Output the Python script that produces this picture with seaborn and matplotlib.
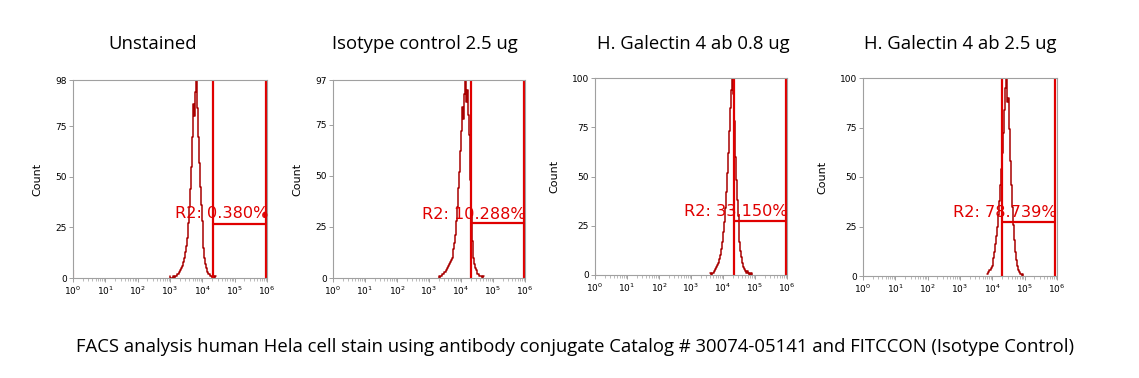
import numpy as np
import pandas as pd
import matplotlib
matplotlib.use('Agg')
import matplotlib.pyplot as plt
import seaborn as sns
from matplotlib.ticker import LogLocator, NullFormatter, FixedLocator, FuncFormatter

sns.set_style('white')
plt.rcParams['font.family'] = ['DejaVu Sans']
plt.rcParams['text.color'] = 'black'
plt.rcParams['xtick.labelcolor'] = 'black'
plt.rcParams['ytick.labelcolor'] = 'black'
plt.rcParams['axes.labelcolor'] = 'black'

# Panel titles and caption
titles = ['Unstained', 'Isotype control 2.5 ug',
          'H. Galectin 4 ab 0.8 ug', 'H. Galectin 4 ab 2.5 ug']
caption = ('FACS analysis human Hela cell stain using antibody conjugate '
           'Catalog # 30074-05141 and FITCCON (Isotype Control)')

# Histogram counts (log10 bins of width 0.03)
bin_step = 0.03
bin_starts = [3.00, 3.30, 3.60, 3.84]
unstained_counts = [1, 0, 0, 0, 1, 0, 1, 1, 2, 2, 3, 4, 5, 6, 8, 10, 13, 16, 20, 27,
                    35, 44, 55, 70, 86, 80, 92, 98, 84, 70, 57, 45, 36, 28, 21, 15,
                    10, 7, 5, 3, 2, 2, 1, 1, 0, 1, 0, 1]
isotype_counts = [1, 0, 1, 1, 2, 2, 3, 3, 4, 5, 6, 7, 8, 9, 10, 12, 14, 17, 21, 28,
                  35, 44, 52, 62, 72, 84, 78, 90, 97, 86, 92, 80, 70, 48, 30, 18,
                  10, 7, 5, 4, 3, 2, 2, 1, 1, 1, 0, 1]
gal_08_counts = [1, 0, 1, 1, 2, 2, 3, 4, 5, 6, 8, 10, 13, 17, 22, 27, 34, 42, 52, 62,
                 73, 85, 94, 100, 92, 78, 60, 48, 38, 30, 24, 17, 12, 9, 6, 4, 3, 2,
                 1, 2, 1, 0, 1, 0, 1]
gal_25_counts = [1, 2, 3, 3, 4, 5, 7, 9, 12, 16, 20, 25, 31, 38, 46, 54, 62, 72, 84,
                 95, 100, 88, 90, 74, 58, 46, 35, 26, 18, 12, 8, 5, 3, 2, 1, 1, 0, 1]
all_counts = [unstained_counts, isotype_counts, gal_08_counts, gal_25_counts]
edge_counts = [4, 0, 1, 0]          # events piled up on the 10^0 channel
y_tops = [98, 97, 100, 100]

# Region R2 markers (log10 positions) and labels
gate_left = [4.32, 4.31, 4.33, 4.29]
gate_right = [5.98, 5.97, 5.98, 5.95]
gate_level = [26.8, 26.7, 27.6, 27.5]
label_level = [31.8, 31.0, 32.2, 32.0]
r2_labels = ['R2: 0.380%', 'R2: 10.288%', 'R2: 33.150%', 'R2: 78.739%']

hist_color = '#a80000'
gate_color = '#e00000'
axis_grey = '#a0a0a0'

W, H = 1139, 378
fig = plt.figure(figsize=(W / 100, H / 100), dpi=100)

# pixel boxes of the four plot areas: left, top, right, bottom
boxes = [(73, 80, 267, 278), (333, 80, 525, 278),
         (595, 78, 787, 275), (863, 78, 1057, 276)]
title_x = [153, 425, 693, 960]

for i in range(4):
    l, t, r, b = boxes[i]
    ax = fig.add_axes([l / W, 1 - b / H, (r - l) / W, (b - t) / H])

    logx = bin_starts[i] + bin_step * np.arange(len(all_counts[i]))
    df = pd.DataFrame({'intensity': 10 ** logx, 'count': all_counts[i]})
    sns.lineplot(data=df, x='intensity', y='count', ax=ax, color=hist_color,
                 lw=1.1, drawstyle='steps-mid')
    if edge_counts[i] > 0:
        ax.vlines(1, 0, edge_counts[i], color=hist_color, lw=1.5)

    ax.set_xscale('log')
    ax.set_xlim(1, 1e6)
    ax.set_ylim(0, y_tops[i])

    # R2 gate
    gl, gr = 10 ** gate_left[i], 10 ** gate_right[i]
    ax.axvline(gl, color=gate_color, lw=1.6)
    ax.axvline(gr, color=gate_color, lw=1.6)
    ax.hlines(gate_level[i], gl, gr, color=gate_color, lw=1.6)
    ax.text(10 ** (gate_right[i] + 0.05), label_level[i], r2_labels[i],
            color=gate_color, fontsize=11.6, ha='right', va='center')
    if i == 0:
        ax.plot([gr], [label_level[i]], 'o', color=gate_color, ms=4)

    # axes styling
    for s in ax.spines.values():
        s.set_color(axis_grey)
        s.set_linewidth(0.8)
    ax.xaxis.set_major_locator(FixedLocator([10 ** k for k in range(7)]))
    ax.xaxis.set_minor_locator(LogLocator(base=10, subs=np.arange(2, 10), numticks=20))
    ax.xaxis.set_minor_formatter(NullFormatter())
    ax.xaxis.set_major_formatter(FuncFormatter(
        lambda v, p: r'$10^{%d}$' % round(np.log10(v))))
    ax.set_yticks([0, 25, 50, 75, y_tops[i]])
    ax.tick_params(axis='both', which='major', direction='out', length=3,
                   width=0.7, color=axis_grey, labelsize=6.5, pad=1.5,
                   bottom=True, left=True)
    ax.tick_params(axis='x', which='minor', direction='out', length=2,
                   width=0.5, color=axis_grey, bottom=True)
    ax.set_xlabel('')
    ax.set_ylabel('Count', fontsize=8, labelpad=9)

    fig.text(title_x[i] / W, 1 - 44 / H, titles[i], fontsize=13.3,
             family='Open Sans', ha='center', va='center', color='black')

fig.text(575 / W, 1 - 347 / H, caption, fontsize=13.3, family='Open Sans',
         ha='center', va='center', color='black')

fig.savefig('out.png', dpi=100, facecolor='white')
plt.close(fig)
